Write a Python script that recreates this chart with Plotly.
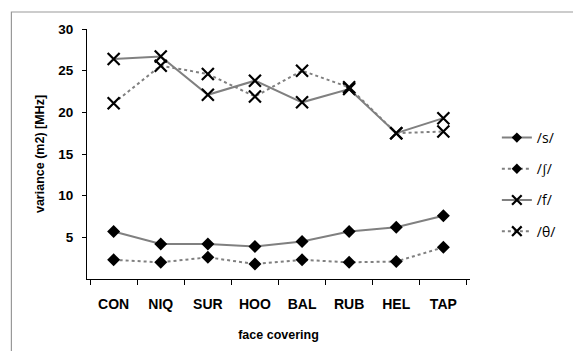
import plotly.graph_objects as go

categories = ["CON", "NIQ", "SUR", "HOO", "BAL", "RUB", "HEL", "TAP"]
s_vals = [5.7, 4.2, 4.2, 3.9, 4.5, 5.7, 6.2, 7.6]
sh_vals = [2.3, 2.0, 2.6, 1.8, 2.3, 2.0, 2.1, 3.8]
f_vals = [26.4, 26.7, 22.1, 23.8, 21.2, 22.8, 17.5, 19.3]
th_vals = [21.1, 25.6, 24.6, 21.9, 25.0, 23.0, 17.5, 17.7]
names = ["/s/", "/\u0283/", "/f/", "/\u03b8/"]
ytick_vals = [5, 10, 15, 20, 25, 30]

GRAY = "#808080"
fig = go.Figure()
series = [(s_vals, "solid", "diamond"), (sh_vals, "dot", "diamond"),
          (f_vals, "solid", "x-thin-open"), (th_vals, "dot", "x-thin-open")]


def mk(sym, scale=1.0):
    if sym == "diamond":
        return dict(symbol="diamond", size=10 * scale, color="black", line=dict(width=0))
    return dict(symbol="x-thin-open", size=12 * scale, color="black",
                line=dict(width=2.2, color="black"))


for i, (vals, dash, sym) in enumerate(series):
    fig.add_trace(go.Scatter(
        x=categories, y=vals, name=names[i], mode="lines+markers",
        line=dict(color=GRAY, width=2, dash=dash), marker=mk(sym),
        showlegend=False))
# legend entries with smaller markers
for i, (vals, dash, sym) in enumerate(series):
    fig.add_trace(go.Scatter(
        x=[categories[0]], y=[None], name=names[i], mode="lines+markers",
        line=dict(color=GRAY, width=2, dash=dash), marker=mk(sym, 0.8),
        legendgroup=str(i), showlegend=True))

L, R, T, B = 87, 101, 29, 72
W, H = 573, 351
pw, ph = W - L - R, H - T - B
fig.add_shape(type="rect", xref="paper", yref="paper",
              x0=(11 - L) / pw, x1=(700 - L) / pw,
              y0=-(420 - (T + ph)) / ph,
              y1=(T + ph - 12) / ph,
              line=dict(color="#999999", width=1.2), layer="below")

fig.update_layout(
    width=W, height=H, margin=dict(l=L, r=R, t=T, b=B),
    paper_bgcolor="white", plot_bgcolor="white",
    font=dict(family="Liberation Sans", color="black"),
    showlegend=True,
    legend=dict(x=(499 - L) / pw, y=(T + ph - 122) / ph, xanchor="left", yanchor="top",
                traceorder="grouped", tracegroupgap=10,
                font=dict(family="Open Sans", size=14, color="black"),
                bgcolor="rgba(0,0,0,0)"),
    xaxis=dict(type="category", showline=True, linecolor="black", linewidth=1,
               ticks="outside", tickson="boundaries", ticklen=5, tickcolor="black",
               ticklabelstandoff=12,
               tickfont=dict(size=14, family="Liberation Sans", weight="bold"),
               showgrid=False, zeroline=False,
               title=dict(text="face covering", font=dict(size=12.5, weight="bold"), standoff=19)),
    yaxis=dict(range=[0, 30], tickvals=ytick_vals, showline=True, linecolor="black", linewidth=1,
               ticks="outside", ticklen=4, tickcolor="black",
               ticklabelstandoff=6,
               tickfont=dict(size=13.5, family="Liberation Sans", weight="bold"),
               showgrid=False, zeroline=False,
               title=dict(text="variance (m2) [MHz]", font=dict(size=12.5, weight="bold"), standoff=10)),
)
fig.write_html("out.html")
